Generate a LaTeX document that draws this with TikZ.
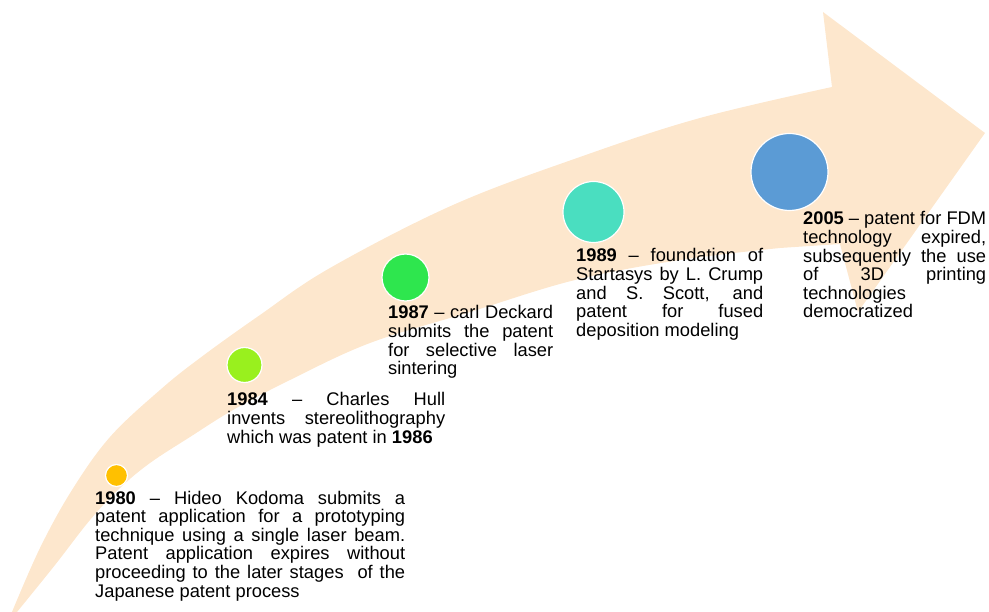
\documentclass[tikz,border=0pt]{standalone}
\usepackage{fontspec}
\setmainfont{Liberation Sans}
\definecolor{arrowbeige}{HTML}{FDE7CD}
\definecolor{c1980}{HTML}{FFC000}
\definecolor{c1984}{HTML}{99F01E}
\definecolor{c1987}{HTML}{2EE64E}
\definecolor{c1989}{HTML}{4ADEC0}
\definecolor{c2005}{HTML}{5B9BD5}
\newcommand\tblock[2]{\vtop{\hsize=#1\relax\baselineskip=18.6pt\lineskiplimit=-100pt\lineskip=0pt #2}}
\newcommand\jrow[1]{\hbox to \hsize{#1}}
\newcommand\lrow[1]{\hbox to \hsize{#1\hfil}}
\tikzset{
  dot/.style={circle, inner sep=0pt, draw=white, line width=1.2pt},
  txt/.style={anchor=base west, inner sep=0pt, text=black, font=\fontsize{18.3pt}{18.6pt}\selectfont}
}
\begin{document}
\begin{tikzpicture}[x=1pt,y=-1pt]
\useasboundingbox (0,0) rectangle (989,612);
% curved arrow
\fill[arrowbeige] plot[smooth, tension=0.6] coordinates {(12,612) (40,548) (72,490) (110,437) (160,390) (200,358) (260,315) (330,268) (453,205) (580,157) (700,118) (832,87)}
  -- (823,12) -- (985,133) -- (858,312) -- (840,244)
  -- plot[smooth, tension=0.6] coordinates {(780,248) (680,260) (575,280) (470,312) (370,343) (290,380) (233,410) (190,437) (150,463) (120,488) (90,520) (55,565) (17,612)}
  -- cycle;
% milestones
\node[dot, fill=c1980, minimum size=22pt] (d1980) at (116.5,475.5) {};
\node[dot, fill=c1984, minimum size=35pt] (d1984) at (244.5,365) {};
\node[dot, fill=c1987, minimum size=47pt] (d1987) at (405.5,277.5) {};
\node[dot, fill=c1989, minimum size=61pt] (d1989) at (593.5,212) {};
\node[dot, fill=c2005, minimum size=77pt] (d2005) at (789.5,172) {};
% texts
\node[txt] (t1980) at (95,504) {\tblock{310pt}{%
  \jrow{\textbf{1980} – Hideo Kodoma submits a}%
  \jrow{patent application for a prototyping}%
  \jrow{technique using a single laser beam.}%
  \jrow{Patent application expires without}%
  \jrow{proceeding to the later stages\ \ of the}%
  \lrow{Japanese patent process}}};
\node[txt] (t1984) at (227,406) {\tblock{218pt}{%
  \jrow{\textbf{1984} – Charles Hull}%
  \jrow{invents stereolithography}%
  \lrow{which was patent in \textbf{1986}}}};
\node[txt] (t1987) at (388,319) {\tblock{165pt}{%
  \jrow{\textbf{1987} – carl Deckard}%
  \jrow{submits the patent}%
  \jrow{for selective laser}%
  \lrow{sintering}}};
\node[txt] (t1989) at (576,262) {\tblock{187pt}{%
  \jrow{\textbf{1989} – foundation of}%
  \jrow{Startasys by L. Crump}%
  \jrow{and S. Scott, and}%
  \jrow{patent for fused}%
  \lrow{deposition modeling}}};
\node[txt] (t2005) at (803,225) {\tblock{183pt}{%
  \jrow{\textbf{2005} – patent for FDM}%
  \jrow{technology expired,}%
  \jrow{subsequently the use}%
  \jrow{of 3D printing}%
  \lrow{technologies}%
  \lrow{democratized}}};
\end{tikzpicture}
\end{document}
